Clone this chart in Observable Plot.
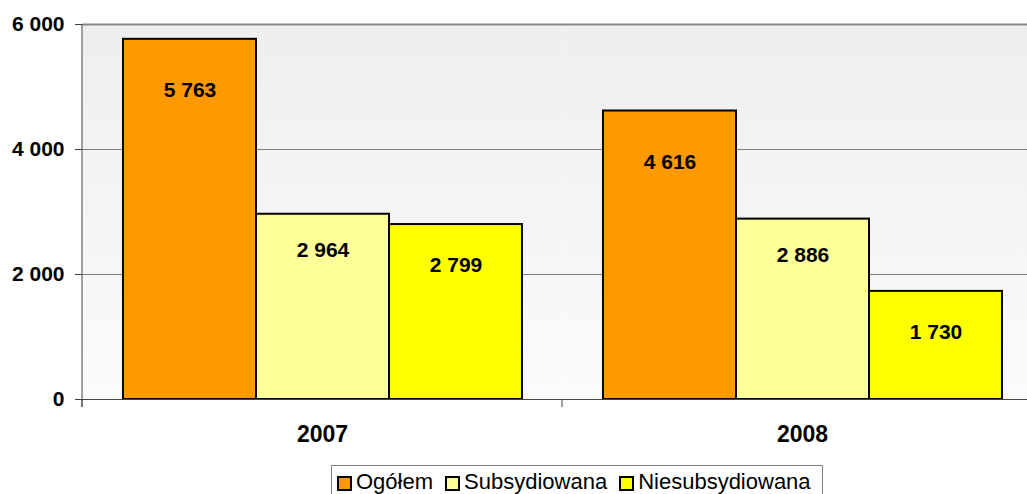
<!DOCTYPE html>
<html>
<head>
<meta charset="utf-8">
<script src="https://cdn.jsdelivr.net/npm/d3@7"></script>
<script src="https://cdn.jsdelivr.net/npm/@observablehq/plot@0.6"></script>
<style>
  html, body { margin: 0; padding: 0; background: #fff; overflow: hidden; }
  #wrap { position: relative; width: 1027px; height: 494px; overflow: hidden; font-family: "Liberation Sans", Arial, sans-serif; }
  #chart { position: absolute; left: 0; top: 0; width: 1042px; }
  #chart svg { max-width: none !important; }
  #legend { position: absolute; left: 331px; top: 465px; border: 1px solid #808080; background: #fff;
            display: flex; align-items: center; padding: 3px 11px 6px 5px; font-size: 22px; line-height: 25px; color: #000; white-space: nowrap; }
  .item { display: flex; align-items: center; margin-right: 12px; }
  .item:last-child { margin-right: 0; }
  .sw { width: 11px; height: 11px; border: 2px solid #000; margin-right: 4px; margin-top: 4px; }
</style>
</head>
<body>
<div id="wrap">
  <div id="chart"></div>
  <div id="legend"></div>
</div>
<script>
const years = ["2007", "2008"];
const series = ["Ogółem", "Subsydiowana", "Niesubsydiowana"];
const values2007 = [5763, 2964, 2799];
const values2008 = [4616, 2886, 1730];
const colors = ["#FF9900", "#FFFF99", "#FFFF00"];
const yTicks = [0, 2000, 4000, 6000];

const valuesByYear = [values2007, values2008];
const data = years.flatMap((yr, i) => series.map((s, j) => ({year: yr, series: s, value: valuesByYear[i][j]})));

const loc = d3.formatLocale({decimal: ",", thousands: " ", grouping: [3], currency: ["", ""]});
const fmt = loc.format(",");

// label offset below bar top, per series (style)
const labelDy = [51, 36, 41];

const chart = Plot.plot({
  width: 1042,
  height: 455,
  marginLeft: 82,
  marginRight: 0,
  marginTop: 24,
  marginBottom: 56,
  style: {fontFamily: "'Liberation Sans', Arial, sans-serif", background: "transparent", color: "#000", maxWidth: "none"},
  fx: {domain: years, padding: 0, label: null},
  x: {domain: series, paddingInner: 0, paddingOuter: 0.3, axis: null},
  y: {domain: [0, 6000], label: null},
  color: {domain: series, range: colors},
  marks: [
    Plot.frame({fill: "url(#bg)", stroke: null}),
    Plot.gridY(yTicks.slice(0, 3), {stroke: "#808080", strokeOpacity: 1, strokeWidth: 1}),
    Plot.ruleY([6000], {stroke: "#888888", strokeWidth: 2}),
    Plot.axisY(yTicks, {tickSize: 7, tickPadding: 11, tickFormat: fmt, fontWeight: "bold", fontSize: 21, label: null, stroke: "#444"}),
    Plot.barY(data, {fx: "year", x: "series", y: "value", fill: "series", stroke: "#000", strokeWidth: 2}),
    ...series.map((s, j) => Plot.text(data.filter(d => d.series === s), {
      fx: "year", x: "series", y: "value", text: d => fmt(d.value),
      dy: labelDy[j], fontWeight: "bold", fontSize: 21, fill: "#000"
    })),
    Plot.ruleY([0], {stroke: "#444", strokeWidth: 1}),
    Plot.axisFx({anchor: "bottom", tickSize: 0, tickPadding: 26, fontSize: 23, fontWeight: "bold", label: null})
  ]
});

// gradient for plot background
d3.select(chart).insert("defs", ":first-child").html(
  '<linearGradient id="bg" x1="0" y1="0" x2="0" y2="1">' +
  '<stop offset="0" stop-color="#eeeeee"/><stop offset="1" stop-color="#fbfbfb"/></linearGradient>'
);

// left axis line and category separator ticks from the scales
const fxS = chart.scale("fx");
const yS = chart.scale("y");
const g = d3.select(chart).append("g").attr("stroke", "#444").attr("stroke-width", 1);
const y0 = yS.apply(0), yTop = yS.apply(6000);
const xLeft = fxS.apply(years[0]);
g.append("line").attr("x1", xLeft).attr("x2", xLeft).attr("y1", yTop).attr("y2", y0 + 8);
years.forEach(yr => {
  const xx = fxS.apply(yr);
  g.append("line").attr("x1", xx).attr("x2", xx).attr("y1", y0).attr("y2", y0 + 8);
});

document.getElementById("chart").appendChild(chart);

const legend = document.getElementById("legend");
series.forEach((s, i) => {
  const it = document.createElement("div");
  it.className = "item";
  const sw = document.createElement("div");
  sw.className = "sw";
  sw.style.background = colors[i];
  const t = document.createElement("span");
  t.textContent = s;
  it.appendChild(sw); it.appendChild(t);
  legend.appendChild(it);
});
</script>
</body>
</html>
